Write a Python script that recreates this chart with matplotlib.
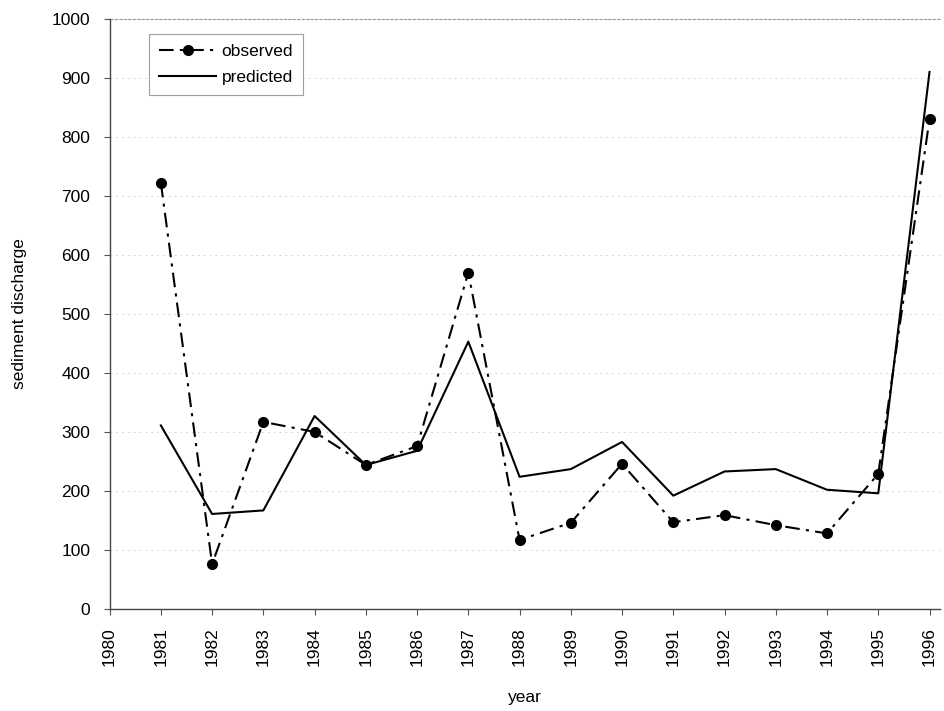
import matplotlib
matplotlib.use("Agg")
import matplotlib.pyplot as plt

plt.rcParams['font.family'] = ['Liberation Sans', 'DejaVu Sans']

years = [1981, 1982, 1983, 1984, 1985, 1986, 1987, 1988, 1989, 1990,
         1991, 1992, 1993, 1994, 1995, 1996]
observed = [722, 76, 317, 300, 244, 276, 570, 117, 146, 246,
            147, 159, 142, 128, 229, 830]
predicted = [311, 161, 167, 327, 244, 268, 453, 224, 237, 283,
             192, 233, 237, 202, 196, 910]
xticks = list(range(1980, 1997))
yticks = list(range(0, 1001, 100))

fig = plt.figure(figsize=(9.45, 7.11), dpi=100)
ax = fig.add_axes([0.116, 0.1435, 0.879, 0.83])

for y in yticks[1:]:
    ax.axhline(y, color='#cccccc', lw=0.6, ls=(0, (2, 5)), zorder=0)

ax.plot(years, observed, color='black', lw=1.5, ls=(0, (7, 3, 1.5, 3)),
        marker='o', ms=7, label='observed')
ax.plot(years, predicted, color='black', lw=1.5, ls='-', label='predicted')

ax.set_xlim(1980, 1996.21)
ax.set_ylim(0, 1000)
ax.set_xticks(xticks)
ax.set_xticklabels([str(x) for x in xticks], rotation=90, fontsize=12.5)
ax.set_yticks(yticks)
ax.set_yticklabels([str(y) for y in yticks], fontsize=12.5)
ax.tick_params(direction='out', length=4, width=0.8, color='#555555')
ax.tick_params(axis='y', pad=10)
ax.tick_params(axis='x', pad=9)
for s in ['top', 'right']:
    ax.spines[s].set_visible(False)
ax.spines['left'].set_linewidth(1.0)
ax.spines['bottom'].set_linewidth(1.0)
ax.spines['left'].set_color('#444444')
ax.spines['bottom'].set_color('#444444')
ax.plot([0, 1], [1, 1], transform=ax.transAxes, color='#999999', lw=0.8,
        ls=(0, (3, 1)), clip_on=False)

ax.set_xlabel('year', fontsize=12.5)
ax.xaxis.set_label_coords(0.5, -0.137)
ax.set_ylabel('sediment discharge', fontsize=12.5)
ax.yaxis.set_label_coords(-0.1, 0.5)

leg = ax.legend(loc='upper left', bbox_to_anchor=(0.047, 0.975), fontsize=12.5,
                frameon=True, fancybox=False, handlelength=3.3,
                borderpad=0.6, labelspacing=0.6, handletextpad=0.3,
                borderaxespad=0)
leg.get_frame().set_edgecolor('#888888')
leg.get_frame().set_linewidth(0.8)

fig.savefig('out.png', dpi=100)
